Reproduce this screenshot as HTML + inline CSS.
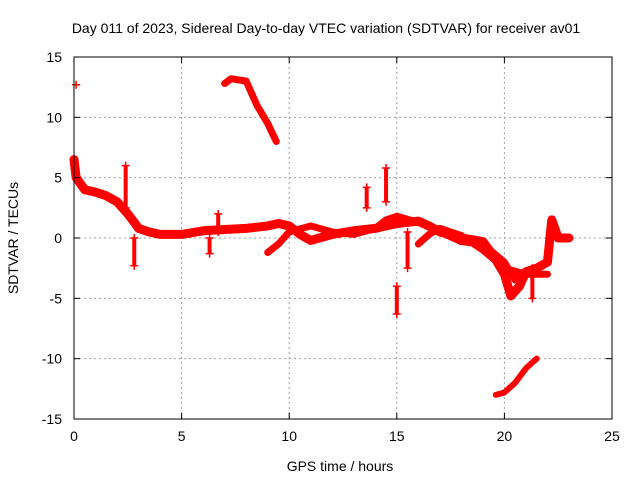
<!DOCTYPE html>
<html><head><meta charset="utf-8"><style>
body{margin:0;background:#fff}
svg text{font-family:"Liberation Sans",sans-serif;font-size:14px;fill:#000}
</style></head><body>
<svg id="chart" width="640" height="480" viewBox="0 0 640 480">
<rect width="640" height="480" fill="#fff"/>
<g id="grid"></g>
<g id="series"></g>
<rect x="74" y="57" width="538" height="362" fill="none" stroke="#000" stroke-width="1"/>
<g id="ticks"></g>
<text x="326" y="33" text-anchor="middle">Day 011 of 2023, Sidereal Day-to-day VTEC variation (SDTVAR) for receiver av01</text>
<text x="340" y="471" text-anchor="middle">GPS time / hours</text>
<text transform="translate(18,238) rotate(-90)" text-anchor="middle">SDTVAR / TECUs</text>
</svg>
<script>
const xTicks=[0,5,10,15,20,25];
const yTicks=[-15,-10,-5,0,5,10,15];
const trackMainT=[0,0.1,0.3,0.5,1,1.5,2,2.5,2.8,3,3.5,4,5,6,7,8,9,9.5,10,10.5,11,12,13,14,15,16,16.5,17,18,19,19.5,20,20.3,20.7,21,21.5,22,22.2,22.5,23];
const trackMainV=[6.5,5,4.5,4,3.8,3.5,3,2,1.3,0.8,0.5,0.3,0.3,0.6,0.7,0.8,1.0,1.2,1.0,0.3,-0.2,0.3,0.6,0.8,1.2,1.4,1.0,0.5,0,-0.3,-1.5,-3,-4.8,-4,-2.8,-2.5,-2,1.5,0,0];
const track2T=[9,9.5,10,11,12,13,14,14.5,15,16,17,18,19,20,20.5,21,22];
const track2V=[-1.2,-0.5,0.5,1,0.5,0.3,0.8,1.5,1.8,1.3,0.5,-0.3,-0.5,-2,-3.5,-3,-3];
const track3T=[16,16.5,17,18,19,20,21];
const track3V=[-0.5,0.3,0.8,0.2,-1,-2.5,-3];
const trackTopT=[7,7.3,8,8.5,9,9.4];
const trackTopV=[12.8,13.2,13,11,9.5,8];
const trackBotT=[19.6,20,20.5,21,21.5];
const trackBotV=[-13,-12.8,-12,-10.8,-10];
const spikeT=[2.4,2.8,6.3,6.7,13.6,14.5,15,15.5,21.3];
const spikeTop=[6,0,0,2,4.2,5.8,-4,0.5,-2.5];
const spikeBot=[2.5,-2.3,-1.3,0.5,2.5,3,-6.3,-2.5,-5];
const pointT=[0.1];
const pointV=[12.7];
const X=t=>74+t*538/25, Y=v=>238-v*362/30;
const ns="http://www.w3.org/2000/svg";
const grid=document.getElementById('grid'),ticks=document.getElementById('ticks'),ser=document.getElementById('series');
function mk(tag,attrs,parent){const e=document.createElementNS(ns,tag);for(const k in attrs)e.setAttribute(k,attrs[k]);parent.appendChild(e);return e;}
xTicks.forEach(t=>{
 if(t>0&&t<25){const g=mk('line',{x1:X(t),x2:X(t),y1:57,y2:419,stroke:'#a0a0a0','stroke-dasharray':'2,3'},grid);
 
 }
 const l=mk('text',{x:X(t),y:441,'text-anchor':'middle'},ticks);l.textContent=t;
 
 
 mk('line',{x1:X(t),x2:X(t),y1:419,y2:413,stroke:'#000'},ticks);
 mk('line',{x1:X(t),x2:X(t),y1:57,y2:63,stroke:'#000'},ticks);
});
yTicks.forEach(v=>{
 if(v>-15&&v<15){const g=mk('line',{x1:74,x2:612,y1:Y(v),y2:Y(v),stroke:'#a0a0a0','stroke-dasharray':'2,3'},grid);
 
 }
 const l=mk('text',{x:62,y:Y(v)+5,'text-anchor':'end'},ticks);l.textContent=v;
 
 
 mk('line',{x1:74,x2:80,y1:Y(v),y2:Y(v),stroke:'#000'},ticks);
 mk('line',{x1:606,x2:612,y1:Y(v),y2:Y(v),stroke:'#000'},ticks);
});
function track(T,V,name,w){
 const p=mk('polyline',{points:T.map((t,i)=>X(t)+','+Y(V[i])).join(' '),fill:'none',stroke:'#f00','stroke-width':w,'stroke-linejoin':'round','stroke-linecap':'round'},ser);
 
 
}
track(trackMainT,trackMainV,'main-track',9);
track(track2T,track2V,'second-track',7);
track(track3T,track3V,'third-track',7);
track(trackTopT,trackTopV,'upper-track',7);
track(trackBotT,trackBotV,'lower-track',6);
function cross(x,y,name){
 const p=mk('path',{d:`M${x-4},${y}H${x+4}M${x},${y-4}V${y+4}`,stroke:'#f00','stroke-width':1.5},ser);
 
 
}
spikeT.forEach((t,i)=>{
 const x=X(t);
 const p=mk('line',{x1:x,x2:x,y1:Y(spikeTop[i]),y2:Y(spikeBot[i]),stroke:'#f00','stroke-width':4},ser);
 
 
 cross(x,Y(spikeTop[i]),'spike-top-point');
 cross(x,Y(spikeBot[i]),'spike-bottom-point');
});
pointT.forEach((t,i)=>cross(X(t),Y(pointV[i]),'outlier-point'));
</script>
</body></html>
